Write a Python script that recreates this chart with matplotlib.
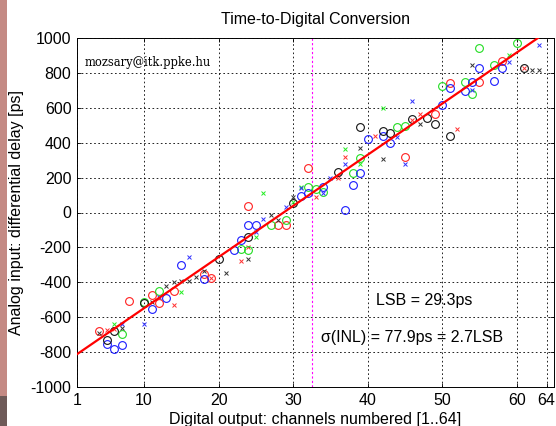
import matplotlib
matplotlib.use("Agg")
import matplotlib.pyplot as plt
from matplotlib.patches import Rectangle
import numpy as np

plt.rcParams['font.family'] = ['Liberation Sans', 'DejaVu Sans']
plt.rcParams['axes.unicode_minus'] = False

# ---- data (channel, delay [ps]) ----
red_o_ch = [4, 8, 11, 12, 14, 18, 19, 24, 28, 29, 32, 45, 49, 51, 55, 58]
red_o_val = [-680, -507, -472, -519, -451, -355, -374, 37, -72, -72, 256, 320, 565, 741, 747, 868]
red_x_ch = [5, 6, 14, 19, 23, 24, 33, 36, 37, 41, 46, 47, 52, 61]
red_x_val = [-673, -670, -530, -374, -278, -200, 90, 197, 320, 438, 530, 565, 479, 828]

green_o_ch = [7, 10, 12, 23, 24, 27, 29, 32, 33, 34, 38, 39, 44, 45, 50, 53, 54, 55, 57, 60]
green_o_val = [-697, -515, -450, -210, -215, -72, -44, 146, 133, 118, 225, 312, 492, 498, 725, 747, 678, 942, 845, 971]
green_x_ch = [6, 15, 25, 26, 30, 31, 37, 39, 42, 59]
green_x_val = [-640, -457, -140, 110, 60, 146, 362, 278, 598, 902]

blue_o_ch = [5, 6, 7, 11, 13, 15, 18, 22, 23, 24, 25, 31, 32, 34, 37, 38, 39, 40, 42, 43, 50, 51, 53, 54, 55, 57, 58]
blue_o_val = [-753, -782, -760, -553, -490, -300, -381, -215, -158, -72, -72, 95, 112, 146, 14, 157, 227, 420, 438, 397, 616, 713, 697, 747, 828, 753, 828]
blue_x_ch = [7, 10, 12, 16, 25, 26, 29, 31, 34, 35, 37, 44, 45, 46, 54, 59, 63]
blue_x_val = [-640, -640, -485, -256, -110, -38, 30, 140, 110, 200, 278, 435, 278, 640, 700, 862, 960]

black_o_ch = [5, 6, 10, 20, 24, 30, 36, 39, 42, 43, 46, 48, 49, 51, 61]
black_o_val = [-730, -680, -520, -265, -140, 52, 231, 492, 467, 455, 535, 540, 507, 438, 828]
black_x_ch = [4, 7, 11, 13, 14, 15, 16, 17, 18, 21, 24, 27, 28, 30, 39, 42, 47, 54, 62, 63]
black_x_val = [-690, -660, -515, -420, -397, -395, -395, -368, -335, -345, -268, -14, -44, 90, 371, 306, 507, 845, 819, 816]

fit_ch = [1, 64]
lsb = 29.3
fit_offset = -812
mid_channel = 32.5

x_ticks = [1, 10, 20, 30, 40, 50, 60, 64]
y_ticks = list(range(-1000, 1001, 200))

fig = plt.figure(figsize=(5.56, 4.26), dpi=100)
fig.patch.set_facecolor('white')
# reddish strip at left edge of the screenshot
fig.patches.append(Rectangle((0, 0), 7/556, 1, transform=fig.transFigure,
                             facecolor='#c48a84', edgecolor='none', zorder=0))
fig.patches.append(Rectangle((0, 0), 7/556, 30/426, transform=fig.transFigure,
                             facecolor='#6e5a58', edgecolor='none', zorder=0))

ax = fig.add_axes([77/556, 39/426, 477/556, 349/426])

groups = [
    (red_o_ch, red_o_val, 'o', '#ff2020'),
    (red_x_ch, red_x_val, 'x', '#ff3030'),
    (green_o_ch, green_o_val, 'o', '#22dd22'),
    (green_x_ch, green_x_val, 'x', '#22ee22'),
    (blue_o_ch, blue_o_val, 'o', '#1a1aff'),
    (blue_x_ch, blue_x_val, 'x', '#3030ff'),
    (black_o_ch, black_o_val, 'o', '#111111'),
    (black_x_ch, black_x_val, 'x', '#333333'),
]
for ch, val, m, c in groups:
    if m == 'o':
        ax.plot(ch, val, linestyle='none', marker='o', markersize=5.6,
                markerfacecolor='none', markeredgecolor=c, markeredgewidth=0.8, zorder=3)
    else:
        ax.plot(ch, val, linestyle='none', marker='x', markersize=3.2,
                markeredgecolor=c, markeredgewidth=0.7, zorder=3)

fx = np.array(fit_ch, dtype=float)
ax.plot(fx, fit_offset + lsb * (fx - 1), color='#ff0000', linewidth=1.6, zorder=4)
ax.axvline(mid_channel, color='#ff00ff', linestyle=(0, (2, 2)), linewidth=0.8, zorder=2)

ax.set_xlim(1, 65)
ax.set_ylim(-1000, 1000)
ax.set_xticks(x_ticks)
ax.set_xticklabels([str(t) for t in x_ticks])
ax.set_yticks(y_ticks)
ax.set_yticklabels([str(t) for t in y_ticks])
ax.tick_params(direction='in', length=3, width=0.6, top=True, right=True,
               labelsize=11.5, pad=4)
ax.grid(True, color='black', linestyle=(0, (2, 3)), linewidth=0.6)
for s in ax.spines.values():
    s.set_linewidth(0.7)

ax.set_title('Time-to-Digital Conversion', fontsize=11.5, pad=10)
ax.set_xlabel('Digital output: channels numbered [1..64]', fontsize=11.5, labelpad=3)
ax.set_ylabel('Analog input: differential delay [ps]', fontsize=11.5, labelpad=5)

ax.text(0.015, 0.93, 'mozsary@itk.ppke.hu', transform=ax.transAxes,
        fontsize=8.3, family='DejaVu Serif', va='center', ha='left')

ax.text(0.727, 0.249, 'LSB = 29.3ps', transform=ax.transAxes, fontsize=11.5,
        ha='center', va='center')
ax.text(0.703, 0.143, '\u03c3(INL) = 77.9ps = 2.7LSB', transform=ax.transAxes,
        fontsize=11.5, ha='center', va='center')

fig.savefig('out.png', dpi=100)
